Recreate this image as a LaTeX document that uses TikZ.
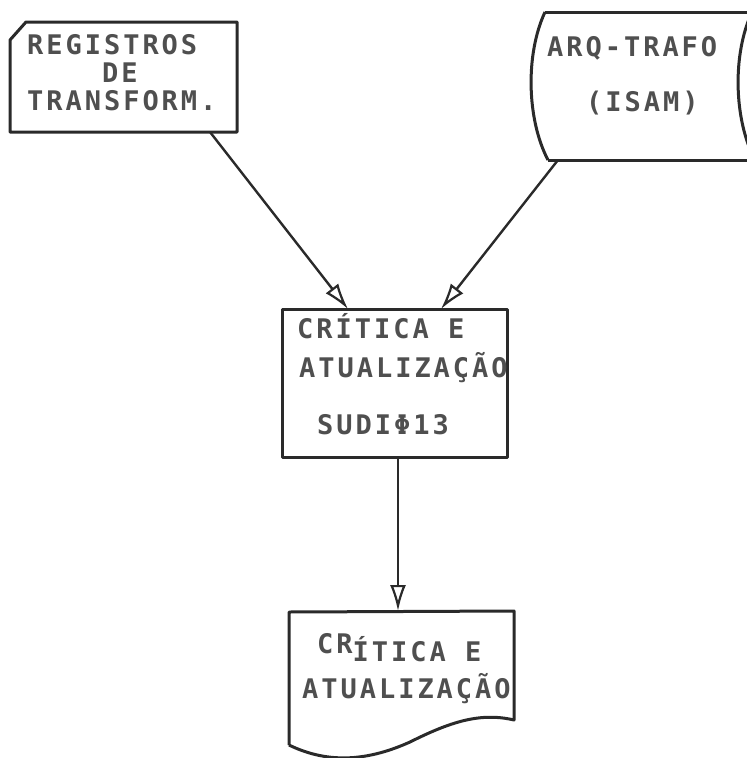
\documentclass[tikz,border=0pt]{standalone}
\usepackage{fontspec}
\usetikzlibrary{arrows.meta}
\newfontfamily\lett[LetterSpace=11]{DejaVu Sans Mono Bold}
\definecolor{ink}{HTML}{2A2A2A}
\definecolor{txt}{HTML}{4F4F4F}
\begin{document}
\begin{tikzpicture}[x=1pt,y=-1pt,
  shapeline/.style={draw=ink,line width=3pt,line join=round},
  conn/.style={draw=ink,line width=2.4pt,-{Latex[open,length=26pt,width=16pt,line width=2.2pt]}},
  lbl/.style={anchor=base west,inner sep=0pt,text=txt,font=\lett\fontsize{27}{27}\selectfont}]
\useasboundingbox (0,0) rectangle (747,758);
\clip (0,0) rectangle (747,758);
% card (punched card)
\draw[shapeline] (10,40) -- (26,22) -- (237,22) -- (237,132) -- (10,132) -- cycle;
\coordinate (cardout) at (210,132);
\node[lbl] (t1) at (27,54) {REGISTROS};
\node[lbl] (t2) at (102,82) {DE};
\node[lbl] (t3) at (27,110) {TRANSFORM.};
% magnetic tape / disk file
\draw[shapeline] (545,12) -- (760,12);
\draw[shapeline] (548,160) -- (760,160);
\draw[shapeline] (545,12) .. controls (525,55) and (527,120) .. (548,160);
\draw[shapeline] (752,12) .. controls (732,55) and (734,120) .. (755,160);
\coordinate (fileout) at (558,160);
\node[lbl] (t4) at (547,56) {ARQ-TRAFO};
\node[lbl] (t5) at (586,111) {(ISAM)};
% process box
\node[shapeline,rectangle,minimum width=225pt,minimum height=148pt,inner sep=0pt] (proc) at (394.5,383) {};
\coordinate (procin1) at (348,309);
\coordinate (procin2) at (441,309);
\coordinate (procout) at (398,457);
\node[lbl] (t6) at (297,338) {CRÍTICA E};
\node[lbl] (t7) at (299,377) {ATUALIZAÇÃO};
\node[lbl] (t8) at (317,434) {SUDIΦ13};
% document
\draw[shapeline] (289,745) -- (289,612) -- (514,611) -- (514,720)
  .. controls (480,712) and (450,722) .. (410,742)
  .. controls (370,760) and (330,765) .. (289,745);
\coordinate (docin) at (398,611);
\node[lbl] (t9) at (317,661) {\raisebox{8pt}{CR}ÍTICA E};
\node[lbl] (t10) at (302,698) {ATUALIZAÇÃO};
% connectors
\draw[conn] (cardout) -- (procin1);
\draw[conn] (fileout) -- (procin2);
\draw[conn] (procout) -- (docin);
\end{tikzpicture}
\end{document}
